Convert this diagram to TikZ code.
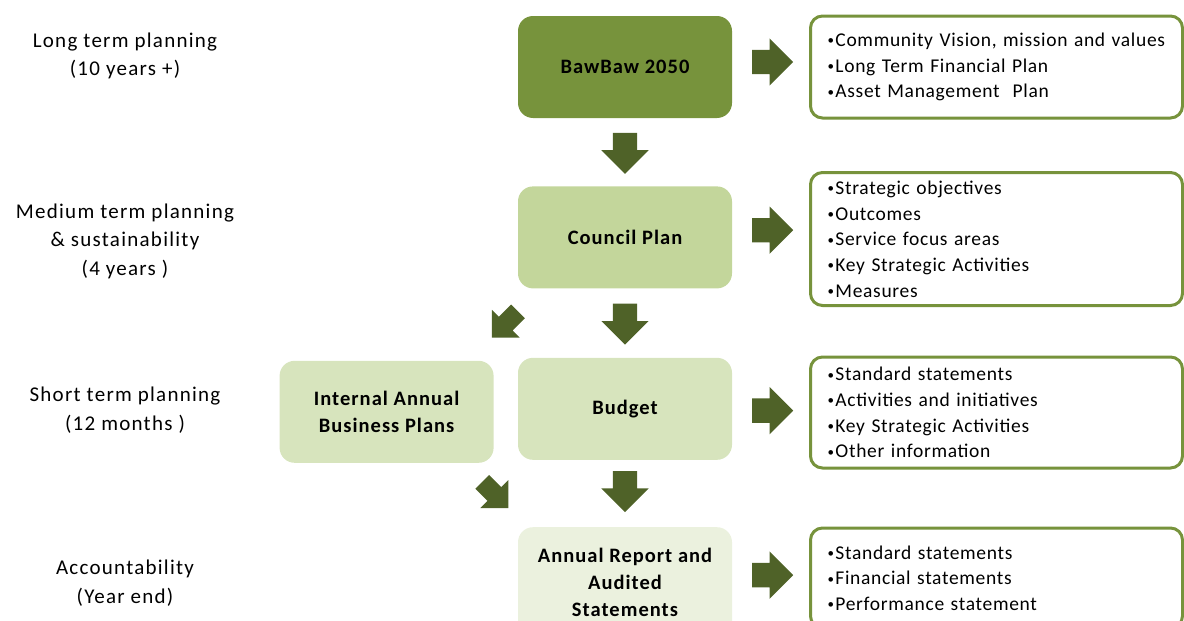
\documentclass[tikz,border=0pt]{standalone}
\usepackage{fontspec}
\setmainfont{Carlito}
\newfontfamily\stagefont[LetterSpace=6]{Carlito}
\newfontfamily\planfont[LetterSpace=5]{Carlito}
\newfontfamily\listfont[LetterSpace=3.5]{Carlito}
\usetikzlibrary{positioning,calc,shapes.arrows}

\definecolor{olive}{HTML}{77933C}
\definecolor{olivelight}{HTML}{C3D69B}
\definecolor{olivepale}{HTML}{D7E4BD}
\definecolor{olivemist}{HTML}{EBF1DE}
\definecolor{olivedeep}{HTML}{4F6228}

% small list bullet
\newcommand{\itm}{\raisebox{1.5pt}{\fontsize{13}{13}\selectfont\textbullet}\hspace{1.5pt}}

\begin{document}
\begin{tikzpicture}[x=1pt, y=1pt]

\tikzstyle{stage} 	= [align = center, font = \stagefont\fontsize{21}{28.5}\selectfont] % planning horizon on the left
\tikzstyle{plan} 	= [rectangle, rounded corners = 15pt, minimum width = 214pt, minimum height = 102pt, align = center, font = \planfont\fontsize{20.5}{27}\selectfont\bfseries] % document block
\tikzstyle{list} 	= [rectangle, draw = olive, line width = 3pt, rounded corners = 12pt, fill = white, text width = 338pt, inner xsep = 17pt, align = left, anchor = west, font = \listfont\fontsize{19.5}{25.7}\selectfont] % contents block
\tikzstyle{fat} 	= [single arrow, fill = olivedeep, inner xsep = 0pt, inner ysep = 12pt, minimum height = 41pt, single arrow head extend = 11.5pt] % block arrow
\tikzstyle{slim} 	= [fat, inner ysep = 9.5pt, minimum height = 37pt, single arrow head extend = 10pt] % smaller diagonal arrow

% page frame
\useasboundingbox (0,0) rectangle (1184,-621);
\clip (0,0) rectangle (1184,-621);

% planning horizons
\node(long)[stage] at (125,-56){Long term planning\\(10 years +)};
\node(medium)[stage] at (125,-241){Medium term planning\\\& sustainability\\(4 years )};
\node(short)[stage] at (125,-410){Short term planning\\(12 months )};
\node(account)[stage] at (125,-583){Accountability\\(Year end)};

% plan documents
\node(vision)[plan, fill=olive] at (625,-67){BawBaw 2050};
\node(council)[plan, fill=olivelight, below=68pt of vision]{Council Plan};
\node(budget)[plan, fill=olivepale, below=69pt of council]{Budget};
\node(business)[plan, fill=olivepale, left=24pt of budget, yshift=-3pt]{Internal Annual\\Business Plans};
\node(report)[plan, fill=olivemist, below=67pt of budget, minimum height=110pt]{Annual Report and\\Audited\\Statements};

% contents of each document
\node(visionlist)[list, minimum height=102pt] at (809,-67){%
	\itm Community Vision, mission and values\\
	\itm Long Term Financial Plan\\
	\itm Asset Management\ \ Plan};
\node(councillist)[list, minimum height=133pt] at (809,-239){%
	\itm Strategic objectives\\
	\itm Outcomes\\
	\itm Service focus areas\\
	\itm Key Strategic Activities\\
	\itm Measures};
\node(budgetlist)[list, minimum height=111pt] at (809,-412.5){%
	\itm Standard statements\\
	\itm Activities and initiatives\\
	\itm Key Strategic Activities\\
	\itm Other information};
\node(reportlist)[list, minimum height=100pt] at (809,-578){%
	\itm Standard statements\\
	\itm Financial statements\\
	\itm Performance statement};

% arrows down the hierarchy
\node(d1)[fat, yshift=5pt, rotate=-90] at ($(vision.south)!0.5!(council.north)$){};
\node(d2)[fat, yshift=5pt, rotate=-90] at ($(council.south)!0.5!(budget.north)$){};
\node(d3)[fat, yshift=8pt, rotate=-90] at ($(budget.south)!0.5!(report.north)$){};

% arrows around the business plans
\node(g1)[slim, xshift=2.5pt, yshift=3.5pt, rotate=-135] at ($(council.south west)!0.5!(business.north east)$){};
\node(g2)[slim, xshift=-14pt, yshift=3.5pt, rotate=-45] at ($(business.south east)!0.5!(report.north west)$){};

% arrows to the contents
\node(r1)[fat, yshift=5pt, xshift=-4pt] at ($(vision.center -| vision.east)!0.5!(visionlist.west)$){};
\node(r2)[fat, yshift=8pt, xshift=-4pt] at ($(council.center -| council.east)!0.5!(councillist.west)$){};
\node(r3)[fat, yshift=0pt, xshift=-4pt] at ($(budget.center -| budget.east)!0.5!(budgetlist.west)$){};
\node(r4)[fat, yshift=5pt, xshift=-4pt] at ($(report.center -| report.east)!0.5!(reportlist.west)$){};

\end{tikzpicture}
\end{document}
